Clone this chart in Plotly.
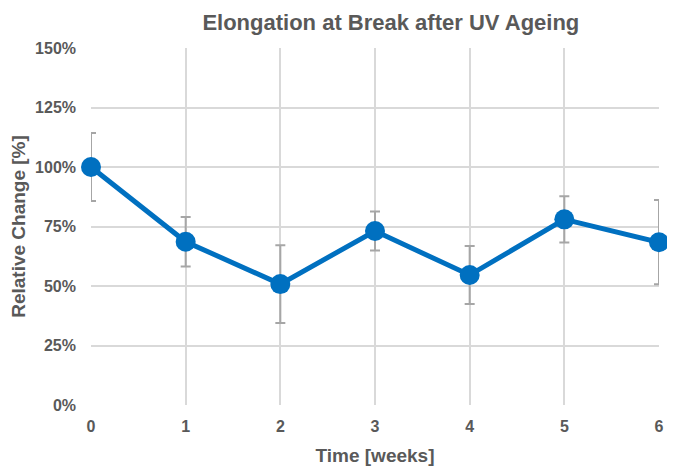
import plotly.graph_objects as go

weeks = [0, 1, 2, 3, 4, 5, 6]
rel_change = [100, 68.6, 50.8, 73.1, 54.6, 78.0, 68.4]
err = [14.3, 10.4, 16.3, 8.2, 12.2, 9.7, 17.7]
y_ticks = [0, 25, 50, 75, 100, 125, 150]

grey = '#595959'
font = 'Liberation Sans, Arial, sans-serif'

fig = go.Figure()
fig.add_trace(go.Scatter(
    x=weeks, y=rel_change,
    mode='lines+markers',
    line=dict(color='#0070C0', width=5),
    marker=dict(color='#0070C0', size=20),
    error_y=dict(type='data', array=err, visible=True, color='#A6A6A6', thickness=2, width=5),
    cliponaxis=False,
    showlegend=False,
))

# page body adds an 8px offset, so the figure is sized to end at the window edge
fig.update_layout(
    width=667, height=463,
    margin=dict(l=83, r=16, t=40, b=66),
    paper_bgcolor='white', plot_bgcolor='white',
    font=dict(family=font, color=grey),
    title=dict(text='<b>Elongation at Break after UV Ageing</b>', x=0.574, xanchor='center',
               y=0.97, yanchor='middle', font=dict(size=22, color=grey)),
)
fig.update_xaxes(
    range=[0, 6], tickvals=weeks, ticktext=[f'<b>{w}</b>' for w in weeks],
    showgrid=True, gridcolor='#D9D9D9', gridwidth=2, zeroline=False,
    tickfont=dict(size=16, color=grey), ticklabelstandoff=10, automargin=False,
    title=dict(text='<b>Time [weeks]</b>', font=dict(size=19, color=grey), standoff=14),
)
fig.update_yaxes(
    range=[0, 150], tickvals=y_ticks, ticktext=[f'<b>{v}%</b>' for v in y_ticks],
    showgrid=True, gridcolor='#D9D9D9', gridwidth=2, zeroline=False,
    tickfont=dict(size=16, color=grey), ticklabelstandoff=14, automargin=False,
    title=dict(text='<b>Relative Change [%]</b>', font=dict(size=19, color=grey), standoff=4),
)

fig.write_html("out.html")
